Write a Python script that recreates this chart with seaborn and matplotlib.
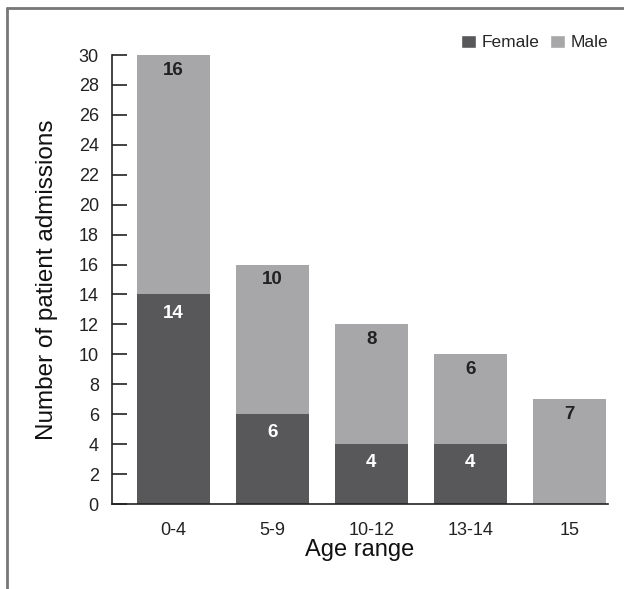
import pandas as pd
import matplotlib
matplotlib.use("Agg")
import matplotlib.pyplot as plt
import seaborn as sns
from matplotlib.patches import Patch
from matplotlib.lines import Line2D

age_ranges = ["0-4", "5-9", "10-12", "13-14", "15"]
female = [14, 6, 4, 4, 0]
male = [16, 10, 8, 6, 7]

df = pd.DataFrame({"Age range": age_ranges, "Female": female, "Male": male})
df["Total"] = df["Female"] + df["Male"]

sns.set_theme(style="white")
plt.rcParams["font.family"] = ["Liberation Sans", "DejaVu Sans"]

female_color = "#58585a"
male_color = "#a7a7a9"

fig = plt.figure(figsize=(6.24, 5.89), dpi=100)
ax = fig.add_axes([0.1795, 0.1443, 0.7949, 0.7623])

sns.barplot(data=df, x="Age range", y="Total", color=male_color, width=0.74,
            saturation=1, linewidth=0, ax=ax)
sns.barplot(data=df, x="Age range", y="Female", color=female_color, width=0.74,
            saturation=1, linewidth=0, ax=ax)

# value labels near the top of each segment
for i, row in df.iterrows():
    if row["Female"] > 0:
        ax.text(i, row["Female"] - 1.25, str(row["Female"]), ha="center", va="center",
                color="white", fontsize=13.5, fontweight="bold")
    ax.text(i, row["Total"] - 1.02, str(row["Male"]), ha="center", va="center",
            color="#222222", fontsize=13.5, fontweight="bold")

ax.set_xlim(-0.62, 4.39)
ax.set_ylim(0, 30)
ax.set_yticks(range(0, 31, 2))
ax.tick_params(axis="y", direction="in", length=11, width=1.2, color="#222222",
               labelsize=13, pad=9.5, left=True)
ax.tick_params(axis="x", length=0, labelsize=13, pad=13)
for lbl in ax.get_xticklabels() + ax.get_yticklabels():
    lbl.set_color("#222222")

for side in ["top", "right"]:
    ax.spines[side].set_visible(False)
for side in ["left", "bottom"]:
    ax.spines[side].set_color("#222222")
    ax.spines[side].set_linewidth(1.2)

ax.set_xlabel("Age range", fontsize=17, color="#111111", labelpad=0)
ax.set_ylabel("Number of patient admissions", fontsize=17.5, color="#111111", labelpad=15)

handles = [Patch(facecolor=female_color, label="Female"),
           Patch(facecolor=male_color, label="Male")]
fig.legend(handles=handles, loc="center right", bbox_to_anchor=(0.975, 0.928), ncol=2,
           frameon=False, fontsize=12.5, handlelength=0.86, handleheight=0.8,
           handletextpad=0.35, columnspacing=0.57, borderaxespad=0, borderpad=0)

# outer frame (left and top edges)
fig.add_artist(Line2D([0.012, 0.012], [0, 0.986], transform=fig.transFigure,
                      color="#777777", linewidth=2))
fig.add_artist(Line2D([0.012, 1.0], [0.986, 0.986], transform=fig.transFigure,
                      color="#777777", linewidth=2))

fig.savefig("out.png", dpi=100)
